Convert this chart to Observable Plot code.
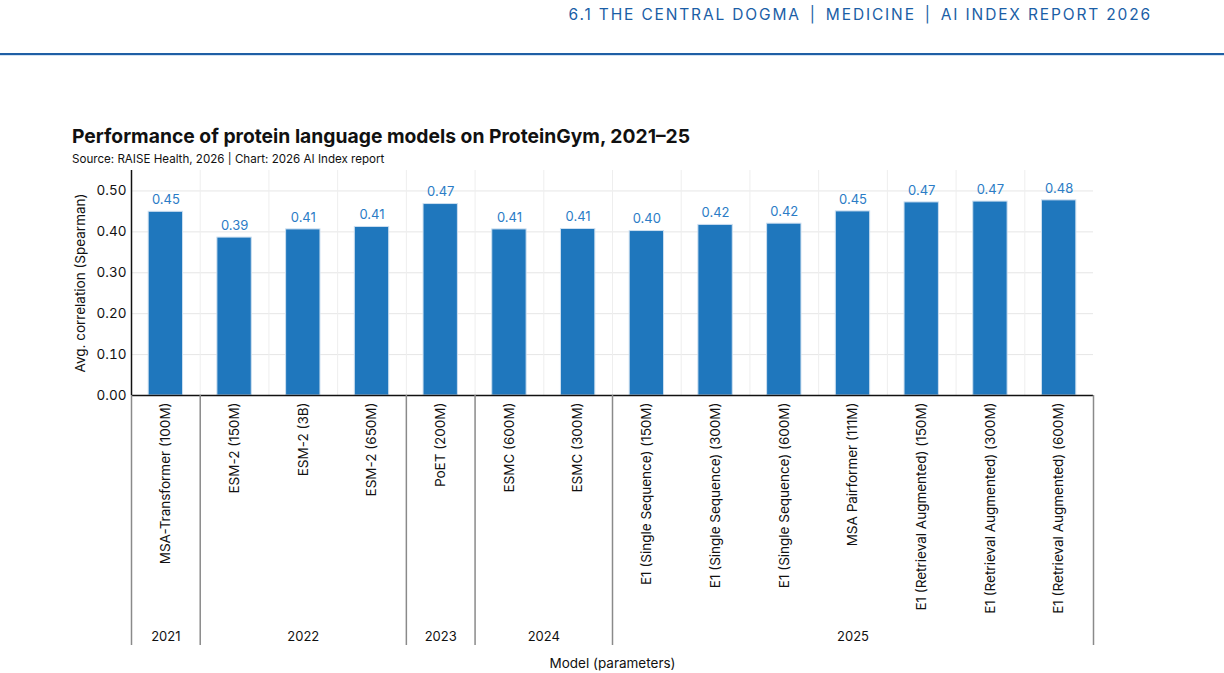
<!DOCTYPE html>
<html><head><meta charset="utf-8">
<script src="https://cdn.jsdelivr.net/npm/d3@7"></script>
<script src="https://cdn.jsdelivr.net/npm/@observablehq/plot@0.6"></script>
<style>
body{margin:0;background:#fff;font-family:Inter,"Noto Sans",sans-serif;width:1224px;height:673px;position:relative;overflow:hidden}
#hdr{position:absolute;right:72px;top:5px;font-size:15.5px;letter-spacing:1.85px;color:#1b5ea6;white-space:nowrap}
#hdr span{margin:0 9px}
#rule{position:absolute;left:0;top:53px;width:1224px;height:2px;background:#1f5fa5;border-bottom:1px solid #d3e2f2}
#title{position:absolute;left:72px;top:124px;font-size:19.3px;font-weight:700;color:#111;white-space:nowrap}
#sub{position:absolute;left:72px;top:152px;font-size:11.6px;color:#111;white-space:nowrap}
#chart{position:absolute;left:0;top:165px}
</style></head><body>
<div id="hdr">6.1 THE CENTRAL DOGMA<span>|</span>MEDICINE<span>|</span>AI INDEX REPORT 2026</div>
<div id="rule"></div>
<div id="title">Performance of protein language models on ProteinGym, 2021–25</div>
<div id="sub">Source: RAISE Health, 2026 | Chart: 2026 AI Index report</div>
<div id="chart"></div>
<script>
const models = ["MSA-Transformer (100M)","ESM-2 (150M)","ESM-2 (3B)","ESM-2 (650M)","PoET (200M)","ESMC (600M)","ESMC (300M)","E1 (Single Sequence) (150M)","E1 (Single Sequence) (300M)","E1 (Single Sequence) (600M)","MSA Pairformer (111M)","E1 (Retrieval Augmented) (150M)","E1 (Retrieval Augmented) (300M)","E1 (Retrieval Augmented) (600M)"];
const years = [2021,2022,2022,2022,2023,2024,2024,2025,2025,2025,2025,2025,2025,2025];
const scores = [0.449,0.386,0.406,0.412,0.468,0.406,0.407,0.402,0.417,0.420,0.450,0.472,0.474,0.477];

const data = models.map((m,i)=>({model:m, year:years[i], score:scores[i]}));
const groups = d3.groups(data, d=>d.year).map(([year, rows])=>({year, first: rows[0].model, mid: rows[Math.floor((rows.length-1)/2)].model, even: rows.length%2===0}));

const W=1224, ML=131, MR=131, MT=5, H=508, MB=278;
const step=(W-ML-MR)/models.length;

const chart = Plot.plot({
  width:W, height:H, marginLeft:ML, marginRight:MR, marginTop:MT, marginBottom:MB,
  style:{fontFamily:"Inter, 'Noto Sans', sans-serif", fontSize:"13px", color:"#111", background:"#fff"},
  x:{domain:models, paddingInner:0.5, paddingOuter:0.25, round:false},
  y:{domain:[0,0.55], ticks:5},
  marks:[
    Plot.gridY({stroke:"#e6e6e6", strokeOpacity:1, strokeWidth:1}),
    Plot.ruleX(models.slice(1), {x:d=>d, dx:-step/2, stroke:"#eeeeee", strokeWidth:1}),
    Plot.barY(data, {x:"model", y:"score", fill:"#1f77bd", stroke:"#cddff0", strokeWidth:1}),
    Plot.text(data, {x:"model", y:"score", text:d=>d.score.toFixed(2), dy:-12, fill:"#2b7cc6", fontSize:13}),
    Plot.ruleX([models[0]], {x:d=>d, dx:-step/2, stroke:"#111", strokeWidth:1.5}),
    Plot.ruleY([0], {stroke:"#111", strokeWidth:1.5}),
    Plot.ruleX(groups, {x:"first", dx:-step/2, y1:0, y2:0, insetBottom:-250, stroke:"#8a8a8a", strokeWidth:1.5}),
    Plot.ruleX([models[models.length-1]], {x:d=>d, dx:step/2, y1:0, y2:0, insetBottom:-250, stroke:"#8a8a8a", strokeWidth:1.5}),
    Plot.text(groups.filter(g=>!g.even), {x:"mid", y:0, text:d=>String(d.year), dy:241, fill:"#111", fontSize:13}),
    Plot.text(groups.filter(g=>g.even), {x:"mid", y:0, text:d=>String(d.year), dy:241, dx:step/2, fill:"#111", fontSize:13}),
    Plot.axisY({tickSize:0, tickPadding:5, tickFormat:".2f", fontSize:13.5, label:"Avg. correlation (Spearman)", labelArrow:false, labelAnchor:"center", labelOffset:56}),
    Plot.axisX({tickRotate:-90, tickSize:0, tickPadding:7, fontSize:13.5, label:"Model (parameters)", labelArrow:false, labelAnchor:"center", labelOffset:272})
  ]
});
document.getElementById("chart").appendChild(chart);
</script>
</body></html>
